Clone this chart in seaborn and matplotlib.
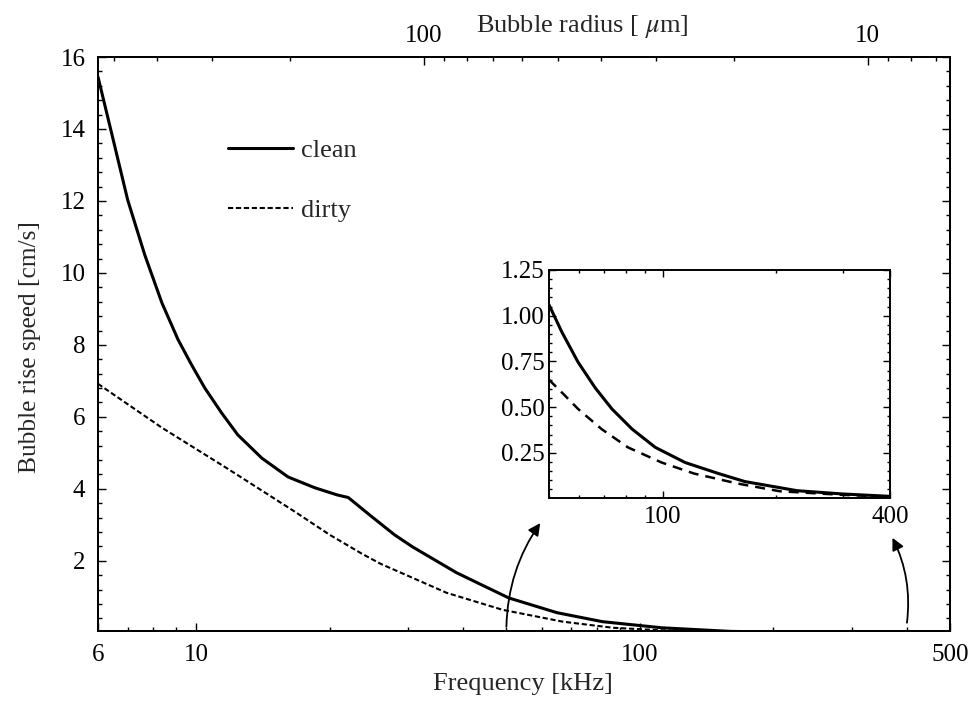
import matplotlib
matplotlib.use("Agg")
import numpy as np
import pandas as pd
import seaborn as sns
import matplotlib.pyplot as plt
from matplotlib.ticker import FixedLocator, FixedFormatter, NullFormatter, LogLocator, AutoMinorLocator
from matplotlib.lines import Line2D

# ---------------- data ----------------
freq_clean = [6.0, 6.45, 7.0, 7.65, 8.36, 9.09, 9.75, 10.45, 11.4, 12.4, 14.06, 16.1,
              18.5, 20.8, 22.0, 24.9, 28.0, 30.7, 38.6, 50.6, 65.0, 82.3, 112, 160,
              250, 400]
speed_clean = [15.45, 13.85, 12.03, 10.5, 9.17, 8.15, 7.45, 6.8, 6.11, 5.5, 4.85, 4.33,
               4.03, 3.83, 3.76, 3.22, 2.72, 2.39, 1.67, 0.97, 0.56, 0.31, 0.14, 0.04,
               0.01, 0.005]

freq_dirty = [6.0, 8.36, 11.8, 16.7, 20.0, 23.6, 26.0, 36.7, 49.0, 67.0, 87.0,
              112, 150, 250, 400]
speed_dirty = [6.92, 5.7, 4.55, 3.36, 2.72, 2.2, 1.92, 1.11, 0.64, 0.31, 0.14,
               0.07, 0.03, 0.01, 0.005]

inset_freq_clean = [50, 54.1, 59.7, 66.3, 73.4, 83.0, 95.6, 114.7, 140.5, 165, 227,
                    300, 400]
inset_speed_clean = [1.06, 0.91, 0.746, 0.605, 0.49, 0.38, 0.28, 0.197, 0.137, 0.093,
                     0.043, 0.025, 0.012]

inset_freq_dirty = [50, 55, 59.7, 68.9, 80.9, 99.4, 121, 158, 204, 300, 400]
inset_speed_dirty = [0.65, 0.565, 0.49, 0.38, 0.28, 0.197, 0.137, 0.082, 0.04, 0.02, 0.01]

x_ticks = [6, 10, 100, 500]
y_ticks = [2, 4, 6, 8, 10, 12, 14, 16]
radius_ticks = [100, 10]
radius_minor = [7, 8, 9, 20, 30, 40, 50, 60, 70, 80, 90, 200, 300, 400, 500]
inset_x_ticks = [100, 400]
inset_y_ticks = [0.25, 0.50, 0.75, 1.00, 1.25]
MINNAERT = 3260.0  # f[kHz] * R[um]

arrow_tail_freq = [50, 400]
arrow_tail_speed = [0.17, 0.28]
arrow_head_freq = [59.6, 371]
arrow_head_speed = [3.05, 2.64]
arrow_rad = [-0.15, 0.15]

# ---------------- style ----------------
sns.set_style("ticks")
plt.rcParams['font.family'] = ['Liberation Serif', 'DejaVu Serif']
plt.rcParams['mathtext.fontset'] = 'stix'
plt.rcParams['axes.edgecolor'] = 'black'
plt.rcParams['xtick.color'] = 'black'
plt.rcParams['ytick.color'] = 'black'
FS = 19      # axis labels / legend
TFS = 18     # tick labels

fig = plt.figure(figsize=(9.72, 7.02), dpi=100)
ax = fig.add_axes([0.1008, 0.1011, 0.8765, 0.8177])

df_clean = pd.DataFrame({'f': freq_clean, 'v': speed_clean})
df_dirty = pd.DataFrame({'f': freq_dirty, 'v': speed_dirty})
sns.lineplot(data=df_clean, x='f', y='v', ax=ax, color='black', lw=2.2,
             estimator=None, sort=False)
sns.lineplot(data=df_dirty, x='f', y='v', ax=ax, color='black', lw=1.5,
             linestyle=(0, (2.5, 1.3)), estimator=None, sort=False)

ax.set_xscale('log')
ax.set_xlim(6, 500)
ax.set_ylim(0.05, 16)
ax.xaxis.set_major_locator(FixedLocator(x_ticks))
ax.xaxis.set_major_formatter(FixedFormatter([str(t) for t in x_ticks]))
ax.xaxis.set_minor_locator(LogLocator(base=10, subs=np.arange(2, 10)))
ax.xaxis.set_minor_formatter(NullFormatter())
ax.yaxis.set_major_locator(FixedLocator(y_ticks))
ax.yaxis.set_major_formatter(FixedFormatter([str(t) for t in y_ticks]))
ax.yaxis.set_minor_locator(AutoMinorLocator(5))
ax.tick_params(which='both', direction='in', top=False, right=True,
               labelsize=TFS, pad=9, width=1)
ax.tick_params(which='major', length=6)
ax.tick_params(which='minor', length=3)
for s in ax.spines.values():
    s.set_linewidth(1.4)
    s.set_visible(True)

ax.set_xlabel('Frequency [kHz]', fontsize=FS)
ax.set_ylabel('Bubble rise speed [cm/s]', fontsize=18.3)
ax.xaxis.set_label_coords(0.499, -0.092)
ax.xaxis.label.set_va('center')
ax.yaxis.set_label_coords(-0.0798, 0.495)
ax.yaxis.label.set_va('center')

# legend
handles = [Line2D([], [], color='black', lw=2.2),
           Line2D([], [], color='black', lw=1.5, linestyle=(0, (2.5, 1.3)))]
ax.legend(handles, ['clean', 'dirty'], loc='upper left', bbox_to_anchor=(0.1526, 0.858),
          frameon=False, fontsize=FS, handlelength=2.45, handletextpad=0.3,
          labelspacing=1.38, borderpad=0, borderaxespad=0)

# top axis: bubble radius
ax2 = ax.twiny()
ax2.set_xscale('log')
ax2.set_xlim(ax.get_xlim())
ax2.xaxis.set_major_locator(FixedLocator([MINNAERT / r for r in radius_ticks]))
ax2.xaxis.set_major_formatter(FixedFormatter([str(r) for r in radius_ticks]))
ax2.xaxis.set_minor_locator(FixedLocator([MINNAERT / r for r in radius_minor]))
ax2.xaxis.set_minor_formatter(NullFormatter())
ax2.tick_params(which='both', direction='in', labelsize=TFS, pad=7, width=1)
ax2.tick_params(which='major', length=6)
ax2.tick_params(which='minor', length=3)
for s in ax2.spines.values():
    s.set_linewidth(1.4)
ax2.set_xlabel(r'Bubble radius [ $\mu$m]', fontsize=FS)
ax2.xaxis.set_label_coords(0.568, 1.054)
ax2.xaxis.label.set_va('center')

# arrows
for tf, tv, hf, hv, rad in zip(arrow_tail_freq, arrow_tail_speed, arrow_head_freq,
                               arrow_head_speed, arrow_rad):
    ax.annotate('', xy=(hf, hv), xytext=(tf, tv),
                arrowprops=dict(arrowstyle='-|>', color='black', lw=1.3,
                                connectionstyle=f'arc3,rad={rad}', mutation_scale=18,
                                shrinkA=0, shrinkB=0))

# inset
axin = fig.add_axes([0.5648, 0.2906, 0.3508, 0.3248])
axin.set_facecolor('white')
df_ic = pd.DataFrame({'f': inset_freq_clean, 'v': inset_speed_clean})
df_id = pd.DataFrame({'f': inset_freq_dirty, 'v': inset_speed_dirty})
sns.lineplot(data=df_ic, x='f', y='v', ax=axin, color='black', lw=2.2,
             estimator=None, sort=False)
sns.lineplot(data=df_id, x='f', y='v', ax=axin, color='black', lw=1.8,
             linestyle=(0, (4, 2.8)), estimator=None, sort=False)
axin.set_xscale('log')
axin.set_xlim(50, 400)
axin.set_ylim(0.003, 1.25)
axin.xaxis.set_major_locator(FixedLocator(inset_x_ticks))
axin.xaxis.set_major_formatter(FixedFormatter([str(t) for t in inset_x_ticks]))
axin.xaxis.set_minor_locator(LogLocator(base=10, subs=np.arange(2, 10)))
axin.xaxis.set_minor_formatter(NullFormatter())
axin.yaxis.set_major_locator(FixedLocator(inset_y_ticks))
axin.yaxis.set_major_formatter(FixedFormatter([f'{t:.2f}' for t in inset_y_ticks]))
axin.yaxis.set_minor_locator(AutoMinorLocator(5))
axin.tick_params(which='both', direction='in', top=True, right=True,
                 labelsize=TFS, width=1)
axin.tick_params(axis='y', pad=3)
axin.tick_params(axis='x', pad=6)
axin.tick_params(which='major', length=5)
axin.tick_params(which='minor', length=2.5)
axin.set_xlabel('')
axin.set_ylabel('')
for s in axin.spines.values():
    s.set_linewidth(1.4)
    s.set_visible(True)

fig.savefig('out.png', dpi=100)
